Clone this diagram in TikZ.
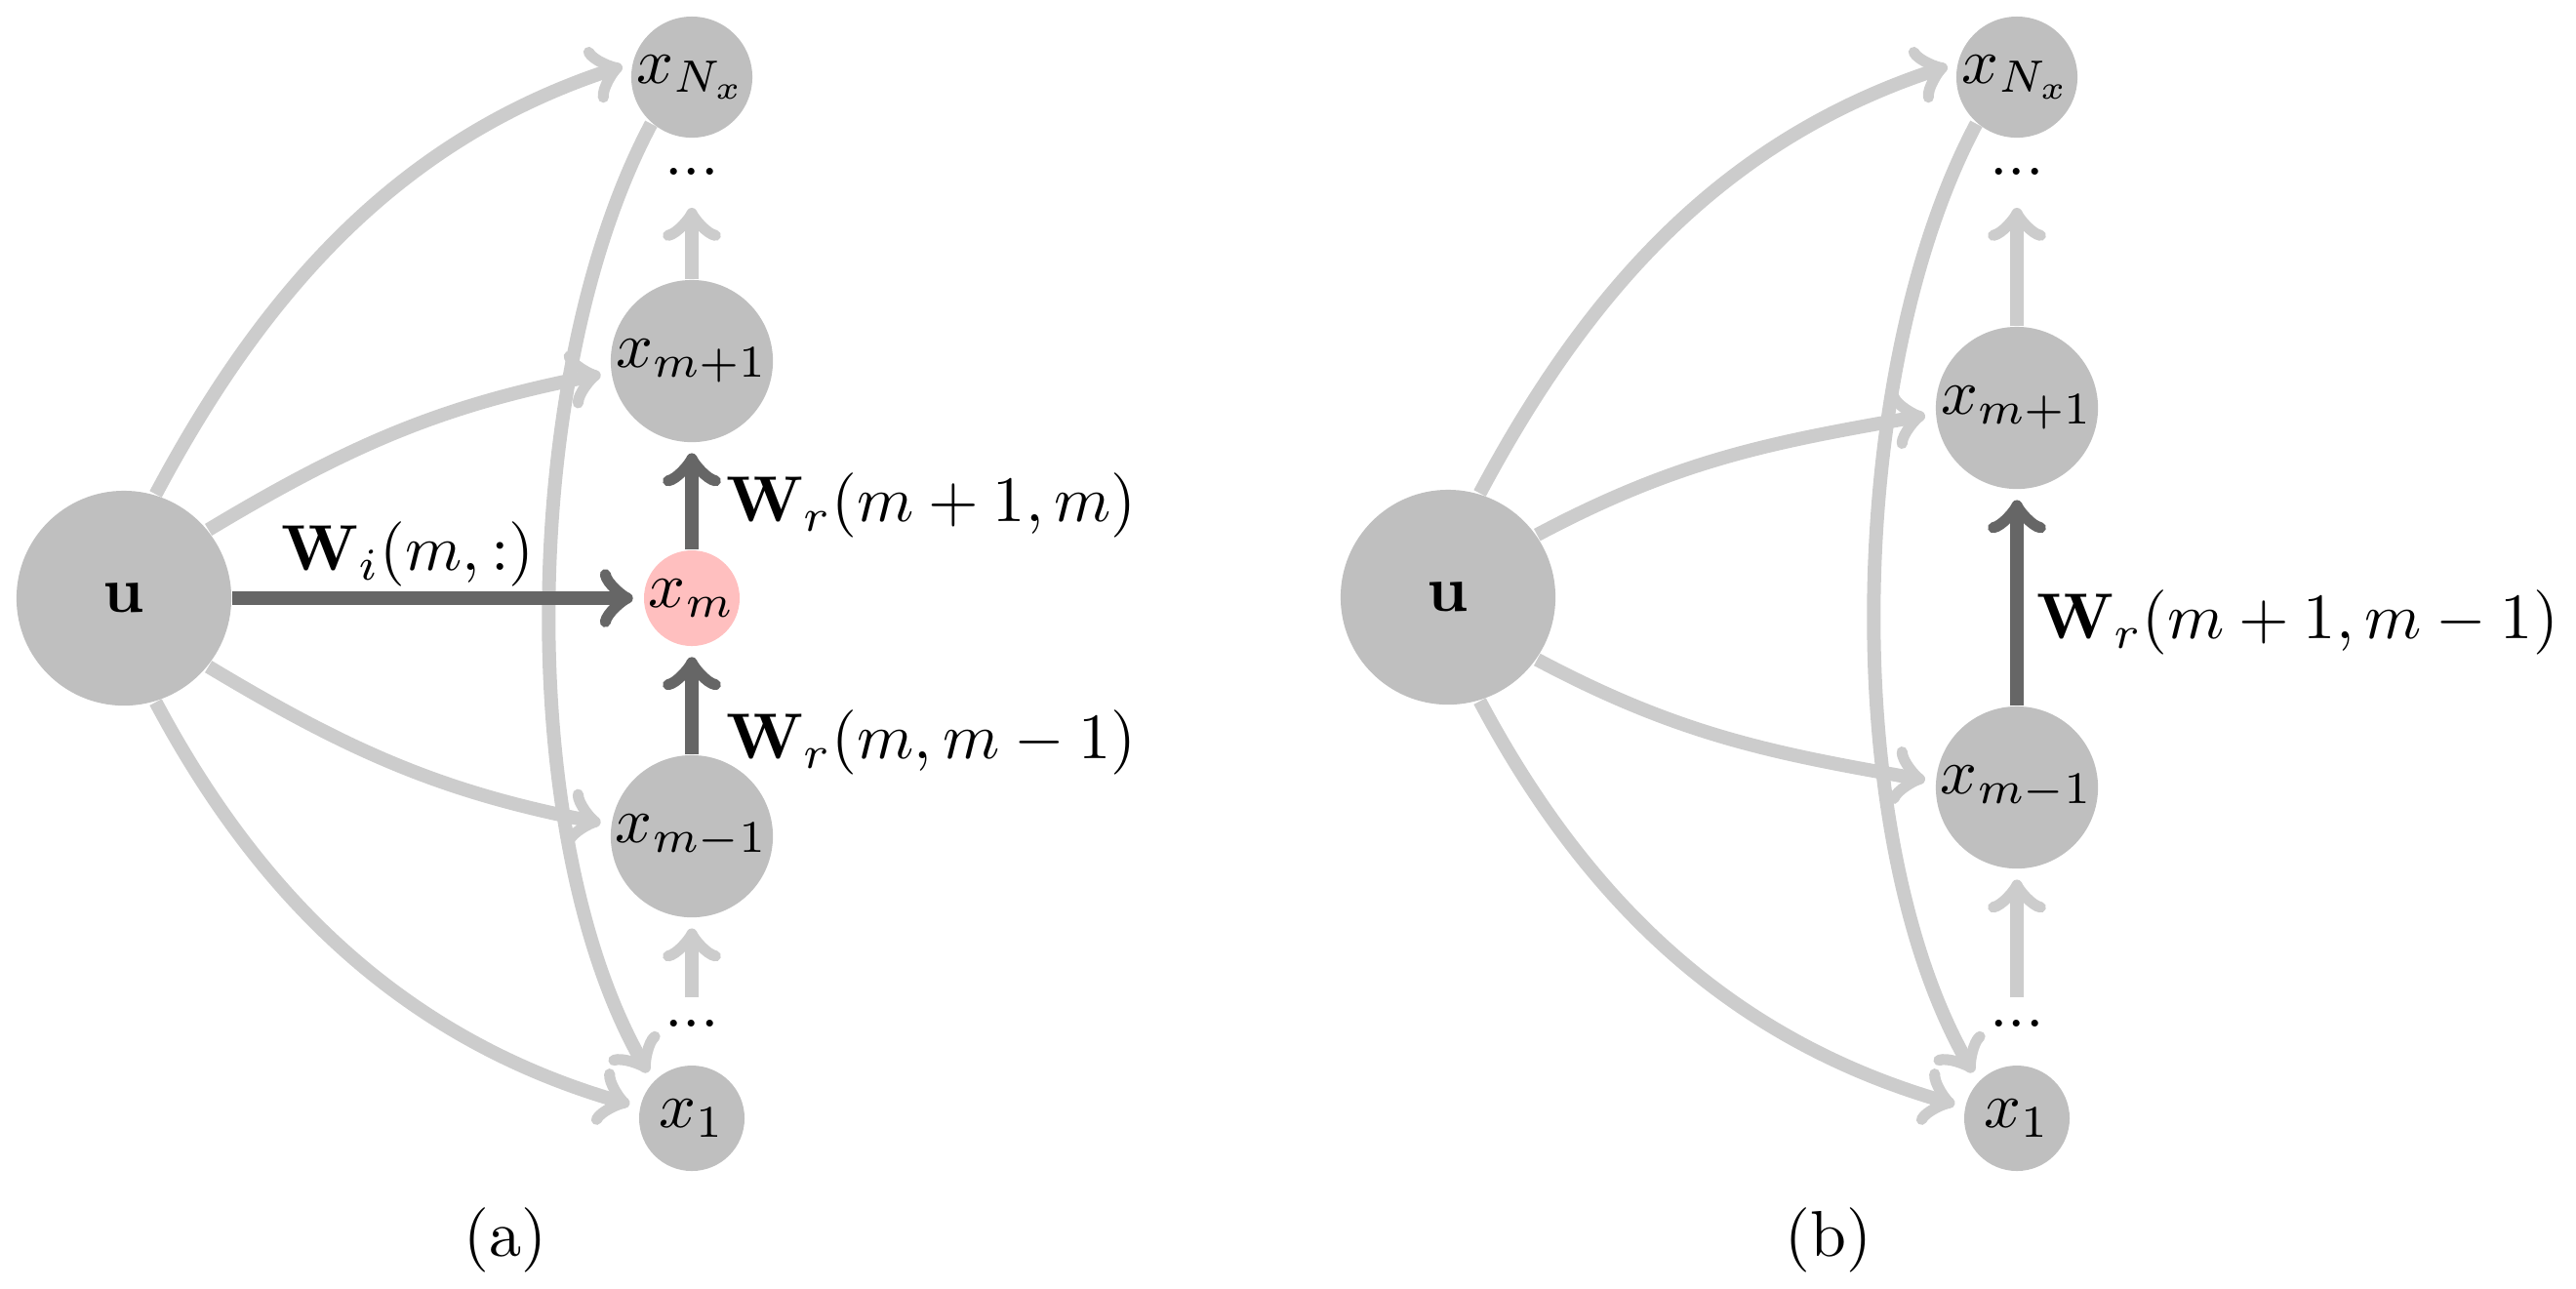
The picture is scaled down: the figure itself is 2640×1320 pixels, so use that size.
\documentclass[tikz,border=0pt]{standalone}
\usetikzlibrary{arrows}
\begin{document}
\begin{tikzpicture}[x=0.0053cm,y=-0.0053cm,
  nd/.style={circle,fill=black!25,inner sep=0pt},
  bignd/.style={nd,minimum size=1.166cm},
  midnd/.style={nd,minimum size=0.88cm},
  topnd/.style={nd,minimum size=0.657cm},
  botnd/.style={nd,minimum size=0.572cm},
  curnd/.style={nd,fill=red!25,minimum size=0.519cm},
  light/.style={draw=black!20,line width=2.11pt,->,shorten >=1.5pt},
  dark/.style={draw=black!60,line width=2.11pt,->,shorten >=1.5pt},
  lab/.style={anchor=west,inner sep=0pt}
]
\useasboundingbox (0,0) rectangle (2640,1320);
% ---------- panel (a)
\node[bignd] (ua) at (127,613) {$\mathbf{u}$};
\node[topnd] (Na) at (709,79) {$x_{N_x}$};
\node[midnd] (pa) at (709,370) {$x_{m+1}$};
\node[curnd] (ma) at (709,613) {$x_m$};
\node[midnd] (qa) at (709,857) {$x_{m-1}$};
\node[botnd] (oa) at (709,1146) {$x_1$};
\node (dta) at (709,176) {...};
\node (dba) at (709,1049) {...};
\draw[light] (ua.73) to[out=62,in=198,looseness=0.95] (Na.167);
\draw[light] (ua.39) to[out=31,in=191] (pa.188);
\draw[light] (ua.-39) to[out=-31,in=169] (qa.172);
\draw[light] (ua.-73) to[out=-62,in=164,looseness=0.95] (oa.168);
\draw[light] (Na.229) to[out=242,in=120,looseness=0.75] (oa.136);
\draw[light] (pa) -- (dta);
\draw[light] (dba) -- (qa);
\draw[dark] (ua) -- (ma);
\draw[dark] (ma) -- (pa);
\draw[dark] (qa) -- (ma);
\node (lwi) at (418,568) {$\mathbf{W}_i(m,:)$};
\node[lab] (lr1) at (743,518) {$\mathbf{W}_r(m+1,m)$};
\node[lab] (lr2) at (743,761) {$\mathbf{W}_r(m,m-1)$};
\node (capa) at (518,1271) {(a)};
% ---------- panel (b)
\node[bignd] (ub) at (1484,612) {$\mathbf{u}$};
\node[topnd] (Nb) at (2067,79) {$x_{N_x}$};
\node[midnd] (pb) at (2067,418) {$x_{m+1}$};
\node[midnd] (qb) at (2067,807) {$x_{m-1}$};
\node[botnd] (ob) at (2067,1146) {$x_1$};
\node (dtb) at (2067,176) {...};
\node (dbb) at (2067,1049) {...};
\draw[light] (ub.73) to[out=62,in=198,looseness=0.95] (Nb.167);
\draw[light] (ub.35) to[out=28,in=190] (pb.184);
\draw[light] (ub.-35) to[out=-28,in=170] (qb.176);
\draw[light] (ub.-73) to[out=-62,in=164,looseness=0.95] (ob.168);
\draw[light] (Nb.229) to[out=242,in=120,looseness=0.75] (ob.136);
\draw[light] (pb) -- (dtb);
\draw[light] (dbb) -- (qb);
\draw[dark] (qb) -- (pb);
\node[lab] (lr3) at (2086,638) {$\mathbf{W}_r(m+1,m-1)$};
\node (capb) at (1874,1271) {(b)};
\end{tikzpicture}
\end{document}
